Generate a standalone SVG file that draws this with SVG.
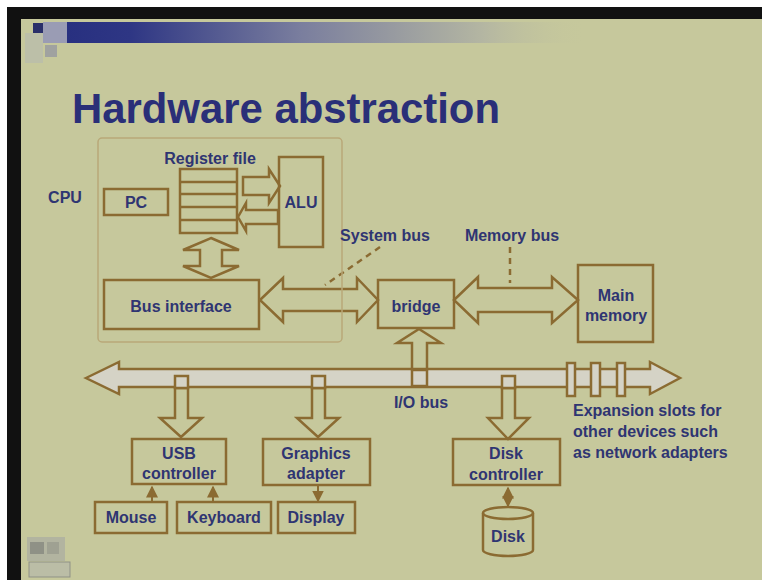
<svg xmlns="http://www.w3.org/2000/svg" width="762" height="580" viewBox="0 0 762 580">
<defs>
<linearGradient id="band" x1="0" y1="0" x2="1" y2="0">
<stop offset="0" stop-color="#283080"/>
<stop offset="0.12" stop-color="#2e3684"/>
<stop offset="0.45" stop-color="#7a7e9e"/>
<stop offset="0.8" stop-color="#b4b6a2"/>
<stop offset="1" stop-color="#c6c89c" stop-opacity="0"/>
</linearGradient>
<marker id="ah" viewBox="0 0 8 8" refX="7" refY="4" markerWidth="6" markerHeight="6" orient="auto-start-reverse">
<path d="M0,0 L8,4 L0,8 z" fill="#8b6b32"/>
</marker>
<style>
.box{fill:none;stroke:#8b6b32;stroke-width:2.5}
.arr{fill:#c6c89c;stroke:#8b6b32;stroke-width:2.5;stroke-linejoin:miter}
.bus{fill:#d5d3c6;stroke:#8b6b32;stroke-width:2.5}
.lbl{font-family:"Liberation Sans",Arial,sans-serif;font-weight:bold;font-size:16px;fill:#2f3572;text-anchor:middle}
.lft{text-anchor:start}
.con{stroke:#8b6b32;stroke-width:2;fill:none}
.dash{stroke:#8b6b32;stroke-width:2.5;stroke-dasharray:6 5;fill:none}
</style>
</defs>
<rect x="0" y="0" width="762" height="580" fill="#ffffff"/>
<rect x="7" y="7" width="755" height="573" fill="#111111"/>
<rect x="21" y="19" width="741" height="561" fill="#c6c89c"/>
<!-- top decoration -->
<rect x="67" y="22" width="520" height="21" fill="url(#band)"/>
<rect x="33" y="23" width="10" height="10" fill="#2a2f6a"/>
<rect x="43" y="22" width="24" height="21" fill="#9a9cb4"/>
<rect x="45" y="45" width="12" height="12" fill="#a0a2a0"/>
<rect x="25" y="33" width="18" height="30" fill="#bcbfa8"/>
<!-- bottom-left icon -->
<rect x="27" y="537" width="38" height="24" fill="#b2b4a0"/>
<rect x="30" y="542" width="14" height="12" fill="#8f9186"/>
<rect x="47" y="542" width="12" height="12" fill="#9fa192"/>
<rect x="29" y="562" width="41" height="15" fill="#bbbda6" stroke="#8f9186" stroke-width="1"/>
<!-- title -->
<text x="72" y="123" font-family="'Liberation Sans',Arial,sans-serif" font-weight="bold" font-size="43" fill="#2a2f78" textLength="428" lengthAdjust="spacingAndGlyphs">Hardware abstraction</text>

<g id="connectors">
<!-- system bus -->
<polygon class="arr" points="260,300 283,278 283,289 357,289 357,278 378,300 357,322 357,311 283,311 283,322"/>
<!-- memory bus -->
<polygon class="arr" points="454,300 478,277 478,288 552,288 552,277 578,300 552,323 552,312 478,312 478,323"/>
<!-- register file <-> bus interface -->
<polygon class="arr" points="211,238 239,250 222,250 222,266 239,266 211,278 183,266 200,266 200,250 183,250"/>
<!-- reg -> ALU -->
<polygon class="arr" points="243,177 269,177 269,169 280,186 269,203 269,195 243,195"/>
<!-- ALU -> reg -->
<polygon class="arr" points="278,210 246,210 246,203 238,217 246,231 246,224 278,224"/>
<!-- I/O bus -->
<polygon class="bus" points="86,378 119,362 119,369 650,369 650,362 680,378 650,394 650,387 119,387 119,394"/>
<!-- expansion slots -->
<rect class="bus" x="567" y="363" width="8" height="33"/>
<rect class="bus" x="591" y="363" width="9" height="33"/>
<rect class="bus" x="617" y="363" width="8" height="33"/>
<!-- I/O bus -> bridge -->
<polygon class="arr" points="419,329 441,343 427,343 427,369 412,369 412,343 397,343"/>
<rect class="bus" x="412" y="370" width="15" height="16"/>
<!-- bus -> USB -->
<polygon class="arr" points="175,388 188,388 188,418 202,418 181,437 160,418 175,418"/>
<rect class="bus" x="175" y="376" width="13" height="12"/>
<!-- bus -> graphics -->
<polygon class="arr" points="312,388 325,388 325,418 339,418 318,437 297,418 312,418"/>
<rect class="bus" x="312" y="376" width="13" height="12"/>
<!-- bus -> disk controller -->
<polygon class="arr" points="502,388 515,388 515,418 529,418 508,439 488,418 502,418"/>
<rect class="bus" x="502" y="376" width="13" height="12"/>
<!-- small connectors -->
<line class="con" x1="152" y1="502" x2="152" y2="487" marker-end="url(#ah)"/>
<line class="con" x1="213" y1="502" x2="213" y2="487" marker-end="url(#ah)"/>
<line class="con" x1="318" y1="486" x2="318" y2="501" marker-end="url(#ah)"/>
<line class="con" x1="508" y1="488" x2="508" y2="506" marker-start="url(#ah)" marker-end="url(#ah)"/>
<!-- callout lines -->
<line class="dash" x1="380" y1="247" x2="325" y2="285"/>
<line class="dash" x1="510" y1="247" x2="510" y2="283" stroke-dasharray="5 4"/>
</g>

<g id="cpu">
<rect x="98" y="138" width="244" height="204" rx="4" fill="none" stroke="#b9a878" stroke-width="1.5"/>
<text class="lbl" x="65" y="203">CPU</text>
</g>
<g id="register-file">
<text class="lbl" x="210" y="164">Register file</text>
<rect class="box" x="180" y="169" width="57" height="64"/>
<line class="box" x1="180" y1="182" x2="237" y2="182"/>
<line class="box" x1="180" y1="194" x2="237" y2="194"/>
<line class="box" x1="180" y1="207" x2="237" y2="207"/>
<line class="box" x1="180" y1="220" x2="237" y2="220"/>
</g>
<g id="pc">
<rect class="box" x="104" y="189" width="64" height="26"/>
<text class="lbl" x="136" y="208">PC</text>
</g>
<g id="alu">
<rect class="box" x="279" y="157" width="44" height="90"/>
<text class="lbl" x="301" y="208">ALU</text>
</g>
<g id="bus-interface">
<rect class="box" x="104" y="280" width="155" height="49"/>
<text class="lbl" x="181" y="312">Bus interface</text>
</g>
<g id="bridge">
<rect class="box" x="378" y="280" width="76" height="48"/>
<text class="lbl" x="416" y="312">bridge</text>
</g>
<g id="main-memory">
<rect class="box" x="578" y="265" width="75" height="77"/>
<text class="lbl" x="616" y="301">Main</text>
<text class="lbl" x="616" y="321">memory</text>
</g>
<g id="labels">
<text class="lbl" x="385" y="241">System bus</text>
<text class="lbl" x="512" y="241">Memory bus</text>
<text class="lbl" x="421" y="408">I/O bus</text>
<text class="lbl lft" x="573" y="416">Expansion slots for</text>
<text class="lbl lft" x="573" y="437">other devices such</text>
<text class="lbl lft" x="573" y="458">as network adapters</text>
</g>
<g id="usb-controller">
<rect class="box" x="132" y="439" width="94" height="45"/>
<text class="lbl" x="179" y="459">USB</text>
<text class="lbl" x="179" y="479">controller</text>
</g>
<g id="graphics-adapter">
<rect class="box" x="263" y="439" width="107" height="46"/>
<text class="lbl" x="316" y="459">Graphics</text>
<text class="lbl" x="316" y="479">adapter</text>
</g>
<g id="disk-controller">
<rect class="box" x="453" y="439" width="107" height="46"/>
<text class="lbl" x="506" y="459">Disk</text>
<text class="lbl" x="506" y="480">controller</text>
</g>
<g id="mouse">
<rect class="box" x="95" y="502" width="72" height="31"/>
<text class="lbl" x="131" y="523">Mouse</text>
</g>
<g id="keyboard">
<rect class="box" x="177" y="502" width="94" height="31"/>
<text class="lbl" x="224" y="523">Keyboard</text>
</g>
<g id="display">
<rect class="box" x="278" y="502" width="77" height="31"/>
<text class="lbl" x="316" y="523">Display</text>
</g>
<g id="disk">
<path class="box" d="M483,513 L483,550 A25,6 0 0 0 533,550 L533,513"/>
<ellipse class="box" cx="508" cy="513" rx="25" ry="6"/>
<text class="lbl" x="508" y="542">Disk</text>
</g>
</svg>
